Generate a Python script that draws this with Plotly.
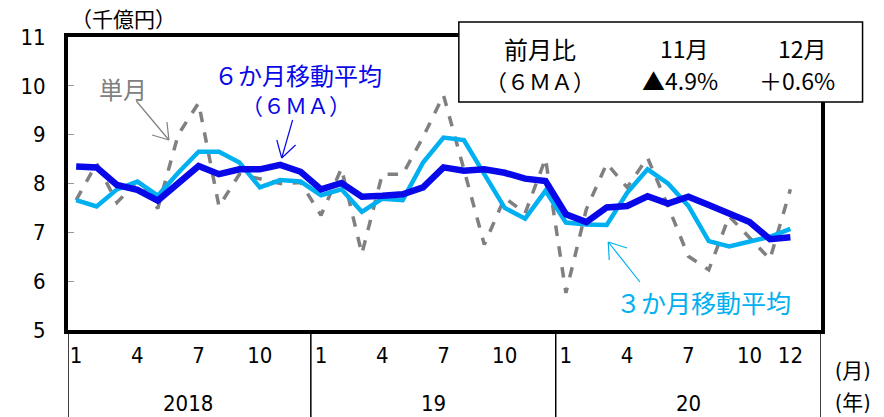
import plotly.graph_objects as go

# ---------- data (thousand-billion yen) ----------

months = list(range(36))   # Jan 2018 .. Dec 2020

single = [7.66, 8.41, 7.61, 8.05, 7.49, 9.00, 9.65, 7.53, 8.19, 8.10, 8.00, 8.02,
          7.35, 8.31, 6.56, 8.19, 8.19, 8.95, 9.81, 8.29, 6.75, 7.71, 7.39, 8.51,
          5.76, 7.47, 8.41, 7.92, 8.53, 7.54, 6.51, 6.23, 7.33, 6.89, 6.45, 7.88]

ma3 = [7.66, 7.53, 7.88, 8.04, 7.75, 8.22, 8.65, 8.65, 8.43, 7.92, 8.07, 8.04,
       7.76, 7.88, 7.42, 7.69, 7.66, 8.43, 8.94, 8.89, 8.19, 7.50, 7.28, 7.85,
       7.20, 7.16, 7.15, 7.81, 8.29, 8.00, 7.54, 6.82, 6.71, 6.80, 6.91, 7.07]

ma6 = [8.35, 8.33, 7.97, 7.87, 7.65, 7.99, 8.36, 8.19, 8.29, 8.29, 8.38, 8.24,
       7.88, 8.01, 7.73, 7.75, 7.78, 7.92, 8.33, 8.26, 8.29, 8.22, 8.10, 8.05,
       7.37, 7.21, 7.51, 7.54, 7.74, 7.59, 7.73, 7.56, 7.39, 7.21, 6.86, 6.90]

month_ticks = [0, 3, 6, 9, 12, 15, 18, 21, 24, 27, 30, 33, 35]
month_text = ["1", "4", "7", "10", "1", "4", "7", "10", "1", "4", "7", "10", "12"]

year_pos = [5.5, 17.5, 30]
year_text = ["2018", "19", "20"]
year_bounds = [-0.4, 11.5, 23.5, 36.5]

y_ticks = [5, 6, 7, 8, 9, 10, 11]

# ---------- style ----------

# the page body adds an 8px margin, so the figure is shrunk by that much
OFF = 8
W, H = 884 - OFF, 417 - OFF
L, R, T, B = 60, 821, 37, 330          # plot area in window pixels

DARK = "#0808E8"
LIGHT = "#00B0F0"
GRAY = "#808080"
NUM_FONT = "Liberation Sans Narrow, DejaVu Sans Condensed, Noto Sans CJK JP"
JP_FONT = "Noto Sans CJK JP"


def px(x, y):
    # window pixel position -> paper coordinates
    return (x - L) / (R - L), (B - y) / (B - T)


def arrow(tail, head, barb1, barb2, color):
    out = []
    for a, b in [(tail, head), (barb1, head), (barb2, head)]:
        x0, y0 = px(*a)
        x1, y1 = px(*b)
        out.append(dict(type="line", xref="paper", yref="paper",
                        x0=x0, y0=y0, x1=x1, y1=y1,
                        line=dict(color=color, width=1.2)))
    return out


def label(x, y, text, color="black", size=21, font=JP_FONT):
    xp, yp = px(x, y)
    return dict(xref="paper", yref="paper", x=xp, y=yp, text=text,
                showarrow=False, xanchor="center", yanchor="middle",
                font=dict(family=font, size=size, color=color))


fig = go.Figure()

fig.add_trace(go.Scatter(x=months, y=single, mode="lines", name="単月",
                         line=dict(color=GRAY, width=3.5, dash="dash")))
fig.add_trace(go.Scatter(x=months, y=ma3, mode="lines", name="3MA",
                         line=dict(color=LIGHT, width=4.5)))
fig.add_trace(go.Scatter(x=months, y=ma6, mode="lines", name="6MA",
                         line=dict(color=DARK, width=6.5)))

shapes = []

# year separators below the plot
for xb in year_bounds:
    shapes.append(dict(type="line", xref="x", yref="paper",
                       x0=xb, x1=xb, y0=0, y1=-0.31,
                       line=dict(color="black", width=1.5)))

# arrows
shapes += arrow((129, 101), (162, 140), (145, 135), (160, 122), GRAY)
shapes += arrow((287, 120), (276, 158), (271, 140), (290, 145), DARK)
shapes += arrow((638, 282), (606, 242), (625, 248), (607, 260), LIGHT)

# box with month-on-month change
bx0, by0 = px(455, 102)
bx1, by1 = px(863, 22)
shapes.append(dict(type="rect", xref="paper", yref="paper", layer="above",
                   x0=bx0, y0=by0, x1=bx1, y1=by1,
                   fillcolor="white", line=dict(color="black", width=1.5)))

annotations = [
    label(116, 18, "（千億円）", size=21),
    label(116, 88, "単月", GRAY, size=24),
    label(292, 74, "６か月移動平均", DARK, size=24),
    label(290, 104, "（６ＭＡ）", DARK, size=22),
    label(702, 302, "３か月移動平均", LIGHT, size=25),
    label(537, 48, "前月比", size=24),
    label(683, 48, "11月", size=23),
    label(802, 48, "12月", size=23),
    label(537, 80, "（６ＭＡ）", size=22),
    label(678, 80, "▲4.9%", size=23),
    label(797, 80, "＋0.6%", size=23),
    label(853, 371, "(月)", size=21, font=NUM_FONT),
    label(853, 403, "(年)", size=21, font=NUM_FONT),
]

for xpos, txt in zip(year_pos, year_text):
    annotations.append(dict(xref="x", yref="paper", x=xpos, y=px(0, 403)[1],
                            text=txt, showarrow=False, yanchor="middle",
                            font=dict(family=NUM_FONT, size=22, color="black")))

fig.update_layout(
    width=W, height=H,
    margin=dict(l=L - OFF, r=W + OFF - R, t=T - OFF, b=H + OFF - B, pad=0),
    paper_bgcolor="white",
    plot_bgcolor="white",
    showlegend=False,
    shapes=shapes,
    annotations=annotations,
    xaxis=dict(range=[-0.4, 36.5], tickvals=month_ticks, ticktext=month_text,
               showgrid=False, zeroline=False, ticks="",
               showline=True, linecolor="black", linewidth=4, mirror=True,
               tickfont=dict(family=NUM_FONT, size=22, color="black"),
               ticklabelstandoff=3),
    yaxis=dict(range=[5, 11], tickvals=y_ticks,
               showgrid=False, zeroline=False,
               ticks="inside", ticklen=6, tickcolor="#999999", tickwidth=1,
               showline=True, linecolor="black", linewidth=4, mirror=True,
               tickfont=dict(family=NUM_FONT, size=22, color="black"),
               ticklabelstandoff=14),
)

fig.write_html("out.html")
